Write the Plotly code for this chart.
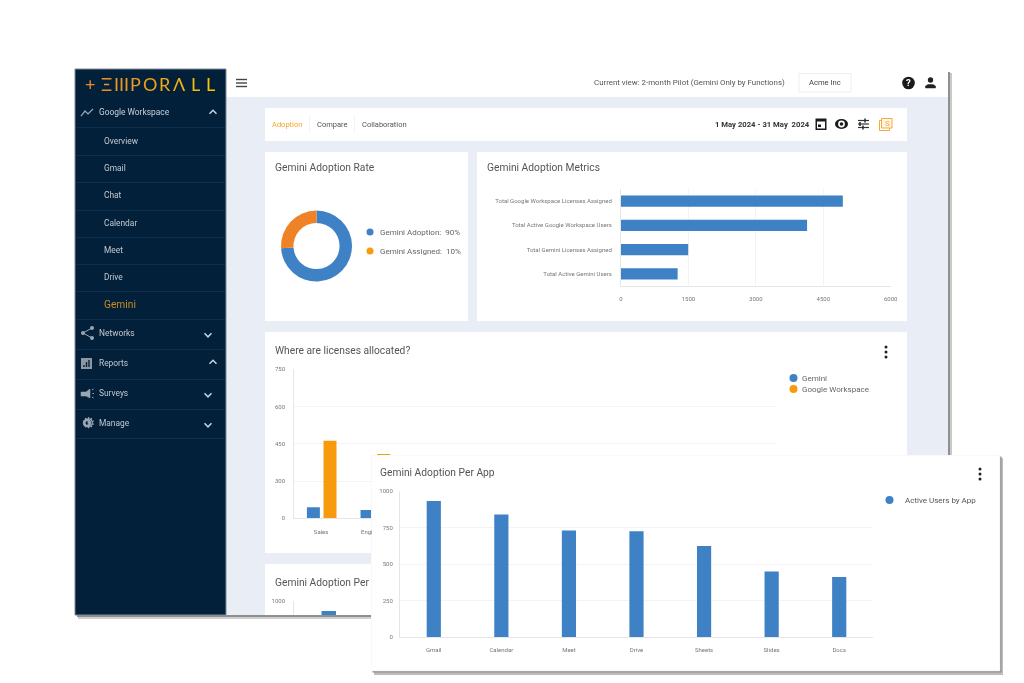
import plotly.graph_objects as go

W, H = 1024, 683
BLUE = "#3e82c5"
ORANGE = "#f79a0b"

# ---------- data ----------
donut_labels = ["Gemini Adoption", "Gemini Assigned"]
donut_values = [74, 26]
donut_colors = [BLUE, "#ef8226"]

metric_names = ["Total Google Workspace Licenses Assigned", "Total Active Google Workspace Users",
                "Total Gemini Licenses Assigned", "Total Active Gemini Users"]
metric_values = [4935, 4140, 1495, 1260]
metric_ticks = [0, 1500, 3000, 4500, 6000]

dept_names = ["Sales", "Engineering"]
dept_gemini = [55, 42]
dept_workspace = [390, 324]
dept_tick_pos = [0, 187.5, 375, 562.5, 750]
dept_tick_text = ["0", "300", "450", "600", "750"]

app_names = ["Gmail", "Calendar", "Meet", "Drive", "Sheets", "Slides", "Docs"]
app_values = [932, 839, 730, 725, 623, 448, 411]
app_ticks = [0, 250, 500, 750, 1000]

menu_top = ["Overview", "Gmail", "Chat", "Calendar", "Meet", "Drive"]
menu_top_y = [141, 168, 195, 223, 250, 277]
menu_main = ["Networks", "Reports", "Surveys", "Manage"]
menu_main_y = [333, 363, 393, 423]
menu_lines = [127, 155, 182, 210, 237, 264, 291, 319, 349, 379, 409, 438]
logo_glyphs = ["+", "Ξ", "III", "P", "O", "R", "Λ", "L", "L"]
logo_x = [90, 106.5, 121.5, 135, 149.5, 164.5, 179, 195, 210]
logo_colors = ["#ea8a2b", "#ec8f28", "#ee9524", "#ef9a20", "#f0a01c", "#f1a818", "#f2b212", "#f3bc0c", "#f4c606"]

# ---------- helpers ----------
px = lambda x: x / W
py = lambda y: 1 - y / H
shapes, notes = [], []


def rect(x0, y0, x1, y1, fill, line=None, layer="below"):
    shapes.append(dict(type="rect", xref="paper", yref="paper", x0=px(x0), x1=px(x1), y0=py(y0), y1=py(y1),
                       fillcolor=fill, line=dict(color=line or "rgba(0,0,0,0)", width=1 if line else 0), layer=layer))


def circ(cx, cy, r, fill, layer="below", line=None, lw=0):
    shapes.append(dict(type="circle", xref="paper", yref="paper", x0=px(cx - r), x1=px(cx + r),
                       y0=py(cy + r), y1=py(cy - r), fillcolor=fill,
                       line=dict(color=line or "rgba(0,0,0,0)", width=lw), layer=layer))


def poly(pts, color, width=1.2, fill=None, close=False, layer="below"):
    d = "M" + " L".join(f"{px(a):.5f},{py(b):.5f}" for a, b in pts) + (" Z" if close else "")
    shapes.append(dict(type="path", xref="paper", yref="paper", path=d, fillcolor=fill or "rgba(0,0,0,0)",
                       line=dict(color=color, width=width), layer=layer))


def txt(x, y, s, size=8, color="#555", anchor="left", font="Roboto"):
    nudge = {"left": -1, "right": 1, "center": 0}[anchor]
    notes.append(dict(xref="paper", yref="paper", x=px(x + nudge), y=py(y), text=s, showarrow=False, xanchor=anchor,
                      yanchor="middle", borderpad=0, font=dict(family=font, size=size, color=color)))


def dots(x, ymid, layer="below"):
    for d in (-5, 0, 5):
        circ(x, ymid + d, 1.5, "#222", layer=layer)


def chevron(x, y, up, color="#c9d1d8"):
    s = -1 if up else 1
    poly([(x - 3.5, y - 1.8 * s), (x, y + 1.8 * s), (x + 3.5, y - 1.8 * s)], color, 1.5)


# ---------- window ----------
rect(948, 72, 950, 619, "#8f8f8f")
rect(950, 73, 952, 619, "#c9c9c9")
rect(77, 615, 952, 617, "#8f8f8f")
rect(78, 617, 952, 619, "#cfcfcf")
rect(75, 69, 948, 615, "#e9edf5")
rect(226, 69, 948, 97, "#ffffff")
rect(75, 69, 226, 615, "#03203a", "#7f8a94")
for y in menu_lines:
    rect(76, y, 225, y + 0.8, "#123553")

# cards
rect(265, 108, 907, 141, "#ffffff")
rect(265, 152, 468, 321, "#ffffff")
rect(477, 152, 907, 321, "#ffffff")
rect(265, 332, 907, 553, "#ffffff")
rect(265, 564, 907, 615, "#ffffff")

# sidebar text
for g, x, c in zip(logo_glyphs, logo_x, logo_colors):
    txt(x, 84, g, 18, c, "center", "Lato")
txt(99, 112, "Google Workspace", 8.4, "#c9d1d8")
for s, y in zip(menu_top, menu_top_y):
    txt(104, y, s, 8.4, "#c0c9d1")
txt(104, 304, "Gemini", 10.2, "#c98a22")
for s, y in zip(menu_main, menu_main_y):
    txt(99, y, s, 8.4, "#c0c9d1")
chevron(213, 112, True)
chevron(208, 335, False)
chevron(213, 362, True)
chevron(208, 395, False)
chevron(208, 425, False)

# sidebar icons
ic = "#9aa6b1"
poly([(81, 116), (85, 111), (88, 114), (93, 109)], ic, 1.2)
poly([(92, 328), (83, 333), (92, 338)], ic, 1)
circ(83, 333, 2, ic)
circ(92, 328, 2, ic)
circ(92, 338, 2, ic)
rect(81, 358, 92, 369, "#8c98a4")
for a, b in ((84, 365), (86.5, 362), (89, 360)):
    rect(a - 0.7, b, a + 0.7, 367, "#03203a")
poly([(81, 392), (86, 392), (90, 389), (90, 398), (86, 396), (81, 396)], ic, 0.5, fill=ic, close=True)
poly([(92, 390), (93.5, 389)], ic, 1)
poly([(92.5, 393.5), (94, 393.5)], ic, 1)
poly([(92, 397), (93.5, 398)], ic, 1)
circ(87, 423, 4.2, ic)
circ(87, 423, 1.7, "#03203a")
txt(88, 423, "⚙", 15, ic, "center", "DejaVu Sans")

# top bar
for y in (79.5, 83, 86.5):
    rect(236, y - 0.7, 247, y + 0.7, "#444")
txt(785, 83, "Current view: 2-month Pilot (Gemini Only by Functions)", 7.9, "#555", "right")
rect(799, 73.5, 851, 92, "#ffffff", "#eeeeee")
txt(825, 83, "Acme Inc", 7.6, "#444", "center")
circ(908.5, 83, 6.3, "#1a1a1a")
txt(908.5, 83, "<b>?</b>", 9.5, "#ffffff", "center")
circ(930.5, 80, 2.7, "#222")
poly([(925.5, 88), (925.5, 86), (928, 84.5), (933, 84.5), (935.5, 86), (935.5, 88)], "#222", 0.5, fill="#222", close=True)

# tab bar
txt(272, 124, "Adoption", 7.5, "#f5a623")
rect(309.3, 115, 310, 133, "#eeeeee")
txt(317, 124, "Compare", 7.5, "#555")
rect(354, 115, 354.7, 133, "#eeeeee")
txt(362, 124, "Collaboration", 7.5, "#555")
txt(810, 124, "<b>1 May 2024 - 31 May  2024</b>", 7.7, "#333", "right")
rect(815.5, 118.5, 826.5, 130, "#1a1a1a")
rect(817, 121.5, 825, 128.5, "#ffffff")
rect(818, 124.5, 821, 127, "#1a1a1a")
shapes.append(dict(type="circle", xref="paper", yref="paper", x0=px(835), x1=px(848), y0=py(129), y1=py(119),
                   fillcolor="#1a1a1a", line=dict(width=0), layer="below"))
circ(841.5, 124, 3.4, "#ffffff")
circ(841.5, 124, 1.8, "#1a1a1a")
for y, a in ((120.5, 865), (124, 860), (127.5, 863)):
    rect(858, y - 0.6, 869, y + 0.6, "#333")
    rect(a - 0.8, y - 2, a + 0.8, y + 2, "#333")
rect(879.5, 120.5, 889.5, 130.5, "#ffffff", "#f6a93b")
rect(881.5, 118.5, 892, 128, "#fff6e6", "#f6a93b")
txt(887.7, 123.5, "S", 8, "#f6a93b", "center")

# card titles and legends
TITLE = dict(size=10.25, color="#555")
txt(275, 167.6, "Gemini Adoption Rate", **TITLE)
txt(487, 167.6, "Gemini Adoption Metrics", **TITLE)
txt(275, 350, "Where are licenses allocated?", **TITLE)
txt(275, 582, "Gemini Adoption Per", **TITLE)
txt(360.5, 531, "Engi", 6, "#777")
circ(370, 232, 3.5, BLUE)
circ(370, 251, 3.5, ORANGE)
txt(380, 232, "Gemini Adoption:  90%", 8, "#666")
txt(380, 251, "Gemini Assigned:  10%", 8, "#666")
circ(793.5, 378, 4, BLUE)
circ(793.5, 389, 4, ORANGE)
txt(802, 378, "Gemini", 8, "#666")
txt(802, 389, "Google Workspace", 8, "#666")
dots(886, 352)

# overlay card contents (drawn above the cover)
txt(380, 472, "Gemini Adoption Per App", **TITLE)
circ(889.5, 500, 4, BLUE, layer="above")
txt(905, 500, "Active Users by App", 8, "#555")
dots(980, 474, layer="above")


# ---------- axes ----------
def dom_x(a, b):
    return [px(a), px(b)]


def dom_y(top, bottom):
    return [py(bottom), py(top)]


GRID = "#f3f3f3"
AX = "#e4e6ea"
TF = dict(family="Roboto", size=6, color="#777")


def axis(domain, anchor, **kw):
    base = dict(domain=domain, anchor=anchor, showgrid=True, gridcolor=GRID, gridwidth=1, zeroline=False,
                showline=True, linecolor=AX, linewidth=1, ticks="outside", tickcolor="rgba(0,0,0,0)",
                tickfont=TF, fixedrange=True, automargin=False)
    base.update(kw)
    return base


fig = go.Figure()

# 1: metrics bars
fig.add_bar(y=metric_names, x=metric_values, orientation="h", marker_color=BLUE, width=0.47, xaxis="x", yaxis="y",
            marker_line_width=0, showlegend=False)
# 2: licences per department
fig.add_bar(x=dept_names, y=dept_gemini, marker_color=BLUE, width=0.242, offset=-0.265, xaxis="x2", yaxis="y2",
            marker_line_width=0, name="Gemini", showlegend=False)
fig.add_bar(x=dept_names, y=dept_workspace, marker_color=ORANGE, width=0.242, offset=0.045, xaxis="x2", yaxis="y2",
            marker_line_width=0, name="Google Workspace", showlegend=False)
# 3: the same adoption chart, behind the floating card
fig.add_bar(x=app_names, y=app_values, marker_color=BLUE, width=0.21, xaxis="x3", yaxis="y3",
            marker_line_width=0, showlegend=False)
# 4: floating card, hides what lies under it
fig.add_scatter(x=[], y=[], xaxis="x4", yaxis="y4", showlegend=False)
# 5: floating chart
fig.add_bar(x=app_names, y=app_values, marker_color=BLUE, width=0.21, xaxis="x5", yaxis="y5",
            marker_line_width=0, name="Active Users by App", showlegend=False)
# donut
fig.add_pie(labels=donut_labels, values=donut_values, hole=0.65, sort=False, direction="clockwise", rotation=0,
            marker=dict(colors=donut_colors, line=dict(width=0)), textinfo="none", showlegend=False,
            domain=dict(x=dom_x(281, 352), y=dom_y(210.5, 281.5)))

card = [dict(type="rect", xref="x4", yref="y4", x0=374, x1=1003, y0=458, y1=675, fillcolor="#bdbdbd",
             line=dict(width=0), layer="between"),
        dict(type="rect", xref="x4", yref="y4", x0=372.5, x1=1001.5, y0=456.5, y1=672.5, fillcolor="#8f8f8f",
             line=dict(width=0), layer="between"),
        dict(type="rect", xref="x4", yref="y4", x0=371, x1=1000, y0=455, y1=671, fillcolor="#ffffff",
             line=dict(color="#e6e6e6", width=0.5), layer="between")]

fig.update_layout(
    template="none",
    width=W, height=H, margin=dict(l=0, r=0, t=0, b=0, pad=0), autosize=False, showlegend=False,
    paper_bgcolor="#ffffff", plot_bgcolor="rgba(0,0,0,0)", barmode="overlay",
    font=dict(family="Roboto"), shapes=shapes + card, annotations=notes,
    xaxis=axis(dom_x(621, 890.7), "y", range=[0, 6000], tickvals=metric_ticks, ticklen=7),
    yaxis=axis(dom_y(189, 286), "x", autorange="reversed", showgrid=False, ticklen=7, type="category"),
    xaxis2=axis(dom_x(294.3, 777), "y2", type="category", range=[-0.5, 8.5], showgrid=False,
                tickvals=dept_names, ticktext=[dept_names[0], ""], ticklen=7),
    yaxis2=axis(dom_y(369.3, 518.3), "x2", range=[0, 750], tickvals=dept_tick_pos, ticktext=dept_tick_text, ticklen=7),
    xaxis3=axis(dom_x(294.3, 777), "y3", type="category", range=[-0.5, 6.5], showgrid=False, showline=False,
                showticklabels=False, ticks=""),
    yaxis3=axis(dom_y(601, 615), "x3", range=[904, 1000], tickvals=[1000], ticklen=7),
    xaxis4=dict(domain=dom_x(371, 1003), anchor="y4", range=[371, 1003], visible=False, fixedrange=True),
    yaxis4=dict(domain=dom_y(455, 675), anchor="x4", range=[675, 455], visible=False, fixedrange=True),
    xaxis5=axis(dom_x(400, 873), "y5", type="category", range=[-0.5, 6.5], showgrid=False, ticklen=7),
    yaxis5=axis(dom_y(491, 637), "x5", range=[0, 1000], tickvals=app_ticks, ticklen=5),
)

fig.write_html("out.html", config=dict(displayModeBar=False),
               post_script="document.body.style.margin='0';document.documentElement.style.overflow='hidden';"
                           "document.querySelector('.plotly-graph-div').style.filter='blur(0.35px)';")
